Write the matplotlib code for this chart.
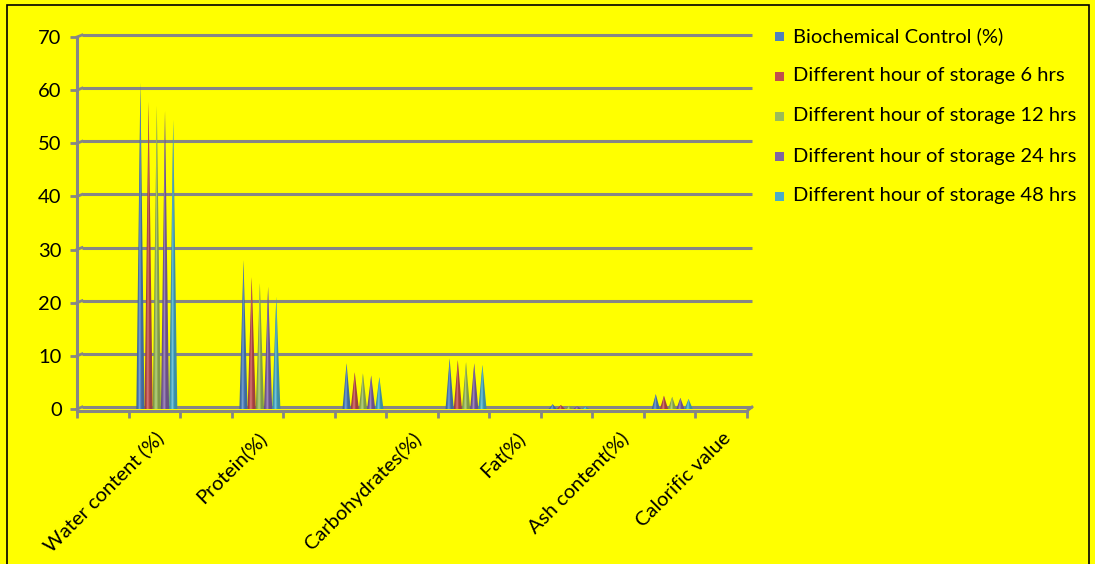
import matplotlib
matplotlib.use("Agg")
import matplotlib.pyplot as plt
import matplotlib.transforms as mtrans
from matplotlib.patches import Polygon, Rectangle
import numpy as np

plt.rcParams['font.family'] = ['Lato', 'DejaVu Sans']

categories = ['Water content (%)', 'Protein(%)', 'Carbohydrates(%)', 'Fat(%)',
              'Ash content(%)', 'Calorific value']
series_names = ['Biochemical Control (%)',
                'Different hour of storage 6 hrs',
                'Different hour of storage 12 hrs',
                'Different hour of storage 24 hrs',
                'Different hour of storage 48 hrs']
control = [61.4, 28.0, 8.6, 9.5, 0.9, 2.8]
hrs6 = [57.8, 24.8, 6.9, 9.2, 0.75, 2.5]
hrs12 = [57.0, 23.7, 6.7, 8.8, 0.6, 2.3]
hrs24 = [56.1, 23.0, 6.3, 8.6, 0.5, 2.1]
hrs48 = [54.4, 21.1, 6.0, 8.3, 0.45, 1.9]
yticks = [0, 10, 20, 30, 40, 50, 60, 70]

series = [control, hrs6, hrs12, hrs24, hrs48]
colors = ['#4F81BD', '#C0504D', '#9BBB59', '#8064A2', '#4BACC6']
grid_c = '#868686'
FS = 14.5

W, H = 1095, 564
fig = plt.figure(figsize=(W / 100, H / 100), dpi=100)
fig.patch.set_facecolor('#FFFF00')

def px(x0, y0, x1, y1):
    return [x0 / W, 1 - y1 / H, (x1 - x0) / W, (y1 - y0) / H]

ax = fig.add_axes(px(77, 37, 747, 409))
ax.set_facecolor('none')
xmax = 2 * len(categories) + 1
ax.set_xlim(0, xmax)
ax.set_ylim(0, 70)

for s in ['top', 'right']:
    ax.spines[s].set_visible(False)
for s in ['left', 'bottom']:
    ax.spines[s].set_color(grid_c)
    ax.spines[s].set_linewidth(2.2)
ax.spines['bottom'].set_position(('outward', 1.5))
ax.spines['left'].set_bounds(0, 70)

ax.set_yticks(yticks)
ax.set_yticklabels([str(v) for v in yticks], fontsize=FS, color='#000000')
ax.set_xticks(np.arange(0, xmax + 1))
ax.set_xticklabels([])
ax.tick_params(axis='both', direction='out', length=5, width=2, color=grid_c)
ax.tick_params(axis='y', pad=6)

dpi_t = fig.dpi_scale_trans
back = ax.transData + mtrans.ScaledTranslation(5 / 100, 2 / 100, dpi_t)
front = ax.transData
inv = ax.transData.inverted()

# back gridlines with 3D slants
for yt in yticks:
    ax.plot([0, xmax], [yt, yt], color=grid_c, lw=2.2, transform=back,
            clip_on=False, solid_capstyle='butt', zorder=1)
    d0 = inv.transform(front.transform((0, yt)))
    d1 = inv.transform(back.transform((0, yt)))
    ax.plot([d0[0], d1[0]], [d0[1], d1[1]], color=grid_c, lw=2, clip_on=False, zorder=1)
# right floor edge
fr = ax.transData + mtrans.ScaledTranslation(0, -2 / 100, dpi_t)
p0 = inv.transform(fr.transform((xmax, 0)))
p1 = inv.transform(back.transform((xmax, 0)))
ax.plot([p0[0], p1[0]], [p0[1], p1[1]], color=grid_c, lw=2, clip_on=False, zorder=1)

# cones
cone_t = ax.transData + mtrans.ScaledTranslation(2.5 / 100, 0, dpi_t)
w = 8.2 / (670 / xmax)
n = len(series)

def shade(c, f):
    c = np.array(matplotlib.colors.to_rgb(c))
    if f < 1:
        return tuple(c * f)
    return tuple(c + (1 - c) * (f - 1))

for i in range(len(categories)):
    cx = 1.5 + 2 * i
    for j in range(n):
        v = series[j][i]
        c = cx + (j - (n - 1) / 2) * w
        ax.add_patch(Polygon([(c - w / 2, 0), (c + w / 2, 0), (c, v)], closed=True,
                             facecolor=shade(colors[j], 0.82), edgecolor='none',
                             transform=cone_t, clip_on=False, zorder=3))
        ax.add_patch(Polygon([(c - w * 0.32, 0), (c + w * 0.12, 0), (c, v)], closed=True,
                             facecolor=colors[j], edgecolor='none',
                             transform=cone_t, clip_on=False, zorder=4))
        ax.add_patch(Polygon([(c - w * 0.18, 0), (c - w * 0.02, 0), (c, v)], closed=True,
                             facecolor=shade(colors[j], 1.25), edgecolor='none',
                             transform=cone_t, clip_on=False, zorder=5))

# category labels (Excel places the last four labels one tick further right)
label_nudge_px = [0, 0, 52, 52, 52, 52]
for i, name in enumerate(categories):
    ax.annotate(name, xy=(1.5 + 2 * i, 0), xycoords='data',
                xytext=(label_nudge_px[i], -20), textcoords='offset pixels',
                rotation=45, rotation_mode='anchor', ha='right', va='top',
                fontsize=FS, color='#000000')

# legend
for k, name in enumerate(series_names):
    yc = 36 + 40 * k
    fig.add_artist(Rectangle((775 / W, 1 - (yc + 4.5) / H), 9 / W, 9 / H,
                             transform=fig.transFigure, facecolor=colors[k],
                             edgecolor='none'))
    fig.text(793 / W, 1 - yc / H, name, fontsize=FS, va='center', ha='left',
             color='#000000')

# chart border
fig.add_artist(Rectangle((7 / W, -0.01), (1089 - 7) / W, 1 - 5 / H + 0.01,
                         transform=fig.transFigure, facecolor='none',
                         edgecolor='#000000', lw=1.2))

fig.savefig('out.png', dpi=100, facecolor=fig.get_facecolor())
